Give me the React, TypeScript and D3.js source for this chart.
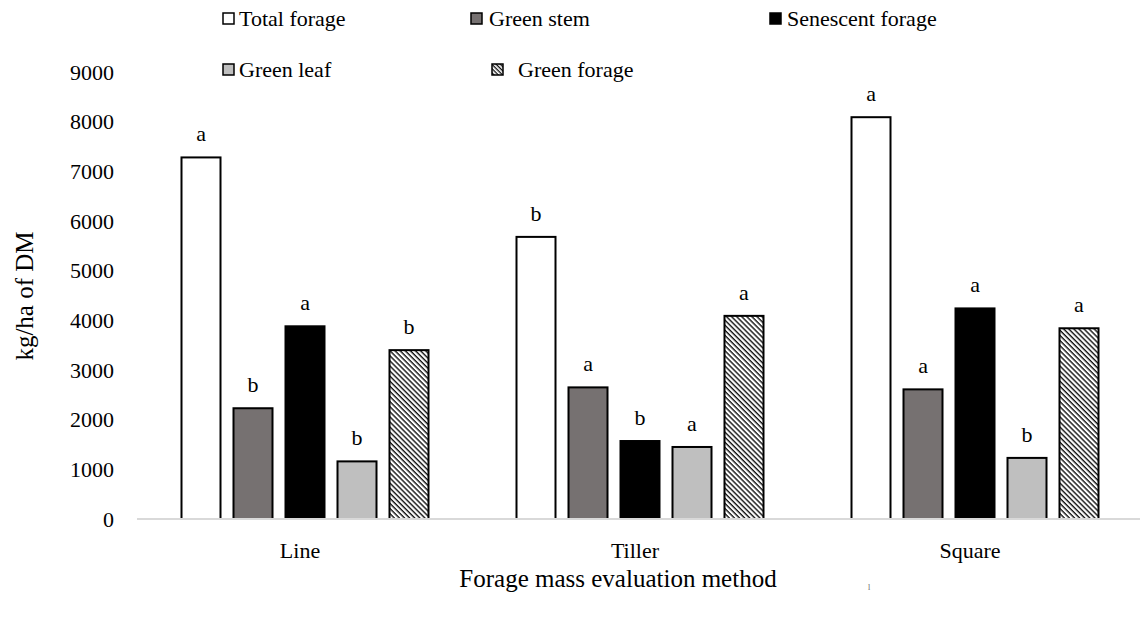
import React from "react";
import * as d3 from "d3";

const categories = ["Line", "Tiller", "Square"];
const seriesNames = ["Total forage", "Green stem", "Senescent forage", "Green leaf", "Green forage"];
const totalForage = [7280, 5680, 8090];
const greenStem = [2230, 2650, 2610];
const senescentForage = [3880, 1570, 4240];
const greenLeaf = [1160, 1450, 1230];
const greenForage = [3400, 4090, 3840];
const letters = [
  ["a", "b", "a", "b", "b"],
  ["b", "a", "b", "a", "a"],
  ["a", "a", "a", "b", "a"],
];
const yTicks = [0, 1000, 2000, 3000, 4000, 5000, 6000, 7000, 8000, 9000];

const seriesValues = [totalForage, greenStem, senescentForage, greenLeaf, greenForage];
const fills = ["#FFFFFF", "#767171", "#000000", "#BFBFBF", "url(#hatch)"];

const W = 1140;
const H = 621;
const FONT = "'Liberation Serif', 'Times New Roman', serif";

export default function App() {
  const x = d3.scaleBand<string>().domain(categories).range([137.5, 1142.5]).padding(0);
  const inner = d3.scaleBand<string>().domain(seriesNames).range([-123.5, 123.5]).paddingInner(0.25).paddingOuter(0);
  const y = d3.scaleLinear().domain([0, 9000]).range([519, 72]);

  const legend = [
    { name: "Total forage", fill: "#FFFFFF", sx: 223, tx: 239, ty: 26, fs: 22 },
    { name: "Green stem", fill: "#767171", sx: 471, tx: 489, ty: 26, fs: 22 },
    { name: "Senescent forage", fill: "#000000", sx: 770, tx: 787, ty: 26, fs: 22 },
    { name: "Green leaf", fill: "#BFBFBF", sx: 223, tx: 239, ty: 77, fs: 22 },
    { name: "Green forage", fill: "url(#hatchSmall)", sx: 492, tx: 518, ty: 77, fs: 22 },
  ];

  return (
    <svg width={W} height={H} style={{ position: "absolute", left: 0, top: 0, background: "#fff" }} fontFamily={FONT}>
      <defs>
        <pattern id="hatch" patternUnits="userSpaceOnUse" width={3.6} height={3.6} patternTransform="rotate(45)">
          <rect width={3.6} height={3.6} fill="#fff" />
          <rect width={3.6} height={1.4} fill="#111" />
        </pattern>
        <pattern id="hatchSmall" patternUnits="userSpaceOnUse" width={3} height={3} patternTransform="rotate(45)">
          <rect width={3} height={3} fill="#fff" />
          <rect width={3} height={1.3} fill="#111" />
        </pattern>
      </defs>
      <rect width={W} height={H} fill="#fff" />

      {/* legend */}
      {legend.map((l) => (
        <g key={l.name}>
          <rect x={l.sx} y={l.ty - 13} width={11} height={11} fill={l.fill} stroke="#000" strokeWidth={1.5} />
          <text x={l.tx} y={l.ty} fontSize={l.fs} fill="#000">{l.name}</text>
        </g>
      ))}

      {/* y ticks */}
      {yTicks.map((t) => (
        <text key={t} x={114} y={y(t)} dy="0.35em" textAnchor="end" fontSize={22} fill="#000">{t}</text>
      ))}

      {/* bars */}
      {categories.map((c, ci) => (
        <g key={c} transform={`translate(${(x(c) as number) + x.bandwidth() / 2},0)`}>
          {seriesNames.map((s, si) => {
            const v = seriesValues[si][ci];
            const bx = inner(s) as number;
            return (
              <g key={s}>
                <rect x={bx} y={y(v)} width={inner.bandwidth()} height={y(0) - y(v)} fill={fills[si]} stroke="#000" strokeWidth={2} />
                <text x={bx + inner.bandwidth() / 2} y={y(v) - 16} textAnchor="middle" fontSize={22} fill="#000">{letters[ci][si]}</text>
              </g>
            );
          })}
        </g>
      ))}

      {/* x axis line */}
      <line x1={137} x2={1140} y1={519} y2={519} stroke="#D9D9D9" strokeWidth={2} />

      {/* category labels */}
      {categories.map((c) => (
        <text key={c} x={(x(c) as number) + x.bandwidth() / 2 - 5} y={558} textAnchor="middle" fontSize={22} fill="#000">{c}</text>
      ))}

      {/* axis titles */}
      <text x={618} y={587} textAnchor="middle" fontSize={25} fill="#000">Forage mass evaluation method</text>
      <text transform="translate(33,296) rotate(-90)" textAnchor="middle" fontSize={25} fill="#000">kg/ha of DM</text>
      <text x={869} y={590} textAnchor="middle" fontSize={8} fill="#666">l</text>
    </svg>
  );
}
